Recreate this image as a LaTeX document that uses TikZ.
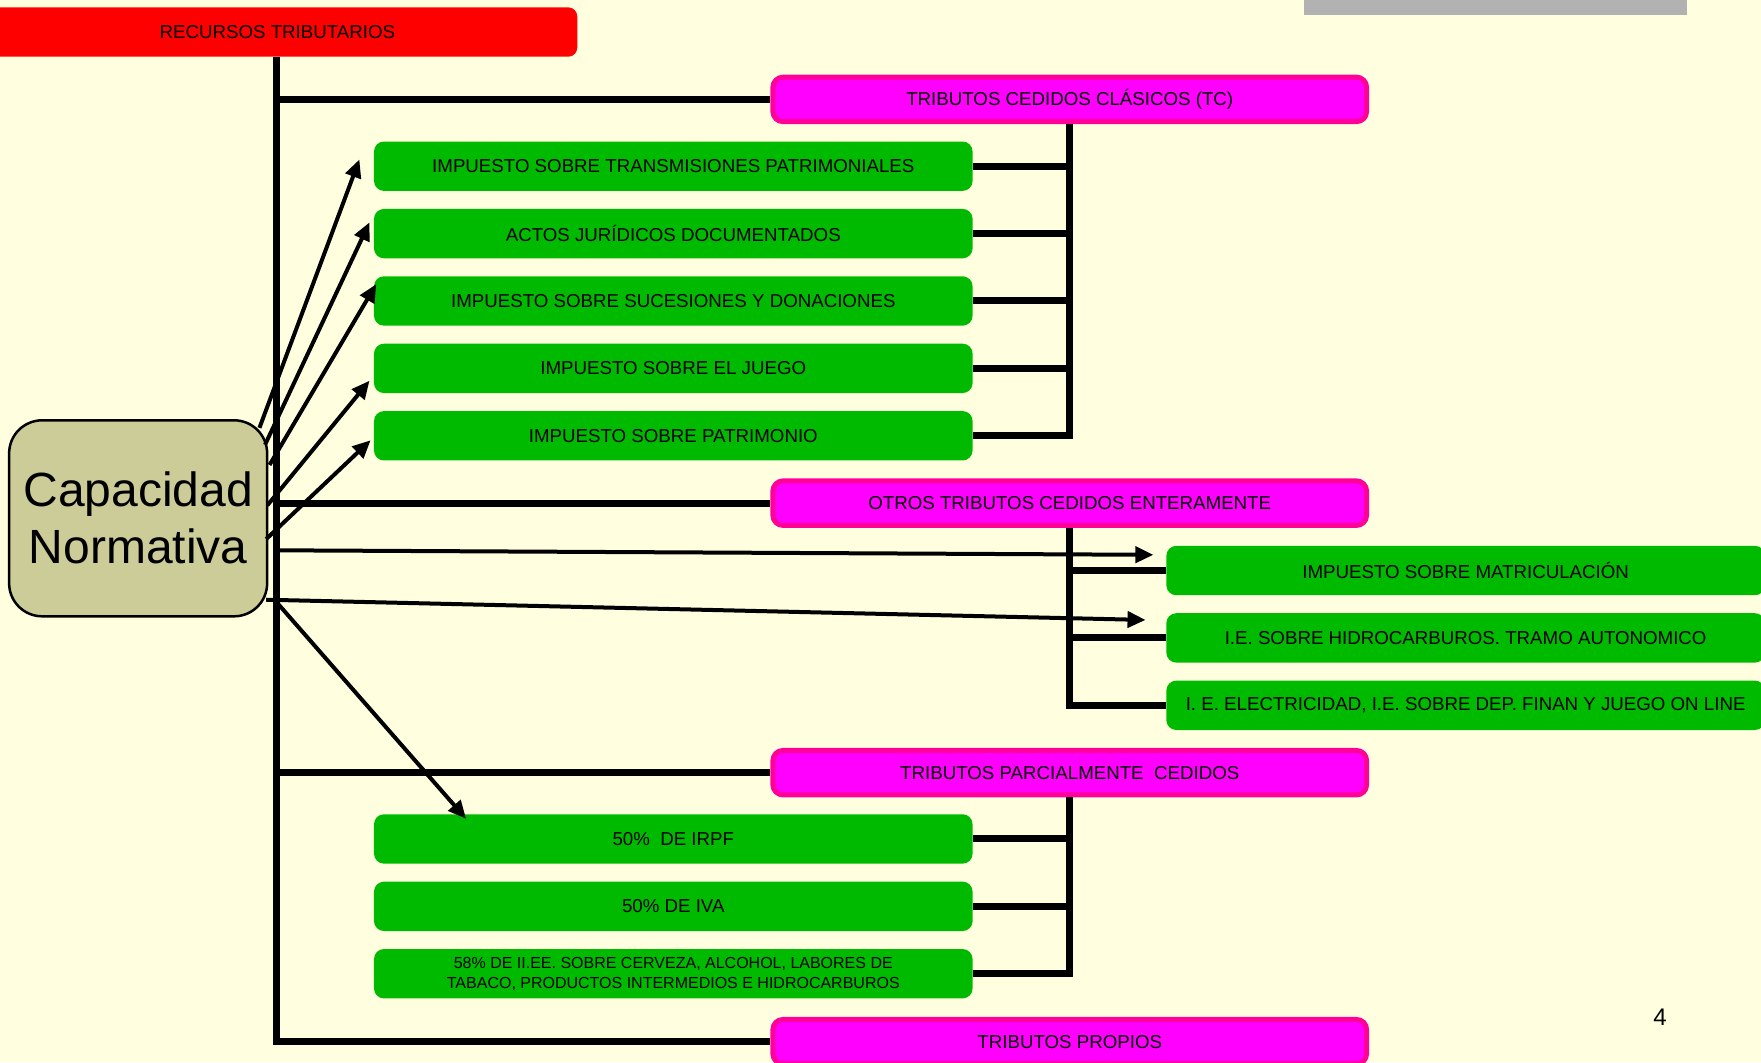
\documentclass[tikz,border=0pt]{standalone}
\usepackage{fontspec}
\setmainfont{Liberation Sans}
\usetikzlibrary{arrows.meta}
\definecolor{bg}{RGB}{255,255,224}
\definecolor{redbox}{RGB}{255,0,0}
\definecolor{magfill}{RGB}{255,0,255}
\definecolor{magline}{RGB}{255,0,153}
\definecolor{greenbox}{RGB}{0,186,0}
\definecolor{capfill}{RGB}{204,204,153}
\definecolor{graybar}{RGB}{178,178,178}
\tikzset{
  lbl/.style={font=\fontsize{18.7}{22}\selectfont, text=black, inner sep=0pt, align=center},
  redb/.style={lbl, fill=redbox, rounded corners=9pt, minimum width=599.7pt, minimum height=49.4pt},
  magb/.style={lbl, fill=magfill, draw=magline, line width=5pt, rounded corners=10pt, minimum width=593.6pt, minimum height=44.4pt},
  greenb/.style={lbl, fill=greenbox, rounded corners=10pt, minimum width=598.6pt, minimum height=49.4pt},
  capb/.style={fill=capfill, draw=black, line width=2.5pt, rounded corners=33pt, minimum width=258pt, minimum height=196pt, inner sep=0pt, align=center, font=\fontsize{48}{57}\selectfont},
  trunkline/.style={line width=7pt, draw=black},
  arr/.style={line width=4pt, draw=black, -{Triangle[length=18pt,width=16pt]}},
}
\begin{document}
\begin{tikzpicture}[x=1.1231pt,y=-1.1231pt]
\useasboundingbox (0,0) rectangle (1568,946);
\clip (0,0) rectangle (1568,946);
\fill[bg] (0,0) rectangle (1568,946);
\fill[graybar] (1161,0) rectangle (1502,13);

% nodes
\node[redb] (rec) at (247,28.5) {RECURSOS TRIBUTARIOS};
\node[magb] (tc) at (952.5,88.5) {TRIBUTOS CEDIDOS CLÁSICOS (TC)};
\node[greenb] (g1) at (599.5,148) {IMPUESTO SOBRE TRANSMISIONES PATRIMONIALES};
\node[greenb] (g2) at (599.5,208) {ACTOS JURÍDICOS DOCUMENTADOS};
\node[greenb] (g3) at (599.5,268) {IMPUESTO SOBRE SUCESIONES Y DONACIONES};
\node[greenb] (g4) at (599.5,328) {IMPUESTO SOBRE EL JUEGO};
\node[greenb] (g5) at (599.5,388) {IMPUESTO SOBRE PATRIMONIO};
\node[magb] (ot) at (952.5,448) {OTROS TRIBUTOS CEDIDOS ENTERAMENTE};
\node[greenb] (r1) at (1305,508) {IMPUESTO SOBRE MATRICULACIÓN};
\node[greenb] (r2) at (1305,568) {I.E. SOBRE HIDROCARBUROS. TRAMO AUTONOMICO};
\node[greenb] (r3) at (1305,628) {I. E. ELECTRICIDAD, I.E. SOBRE DEP. FINAN Y JUEGO ON LINE};
\node[magb] (pc) at (952.5,688) {TRIBUTOS PARCIALMENTE\ \ CEDIDOS};
\node[greenb] (g6) at (599.5,747) {50\%\ \ DE IRPF};
\node[greenb] (g7) at (599.5,807) {50\% DE IVA};
\node[greenb, font=\fontsize{16}{20.5}\selectfont] (g8) at (599.5,867) {58\% DE II.EE. SOBRE CERVEZA, ALCOHOL, LABORES DE\\TABACO, PRODUCTOS INTERMEDIOS E HIDROCARBUROS};
\node[magb] (pr) at (952.5,927.5) {TRIBUTOS PROPIOS};
\node[capb] (cap) at (123,461.5) {Capacidad\\Normativa};
\node[font=\fontsize{24}{28}\selectfont, inner sep=0pt] (num) at (1478,906) {4};

% trunk
\coordinate (tk) at (246,0);
\draw[trunkline] (rec.south -| tk) |- (pr.west);
\draw[trunkline] (tc.west -| tk) -- (tc.west);
\draw[trunkline] (ot.west -| tk) -- (ot.west);
\draw[trunkline] (pc.west -| tk) -- (pc.west);

% brackets
\draw[trunkline] (tc.south) |- (g5.east);
\foreach \g in {g1,g2,g3,g4} \draw[trunkline] (\g.east) -- (\g.east -| tc.south);
\draw[trunkline] (ot.south) |- (r3.west);
\foreach \g in {r1,r2} \draw[trunkline] (\g.west) -- (\g.west -| ot.south);
\draw[trunkline] (pc.south) |- (g8.east);
\foreach \g in {g6,g7} \draw[trunkline] (\g.east) -- (\g.east -| pc.south);

% arrows
\coordinate (s1) at (231,381); \coordinate (e1) at (320,142);
\coordinate (s2) at (236,396); \coordinate (e2) at (329,198);
\coordinate (s3) at (240,414); \coordinate (e3) at (335,253);
\coordinate (s4) at (238,450); \coordinate (e4) at (329,339);
\coordinate (s5) at (237,480); \coordinate (e5) at (330,392);
\coordinate (s6) at (249,490); \coordinate (e6) at (1027,494);
\coordinate (s7) at (237,534); \coordinate (e7) at (1020,552);
\coordinate (s8) at (247,537); \coordinate (e8) at (415,729);
\foreach \i in {1,...,8} \draw[arr] (s\i) -- (e\i);
\end{tikzpicture}
\end{document}
